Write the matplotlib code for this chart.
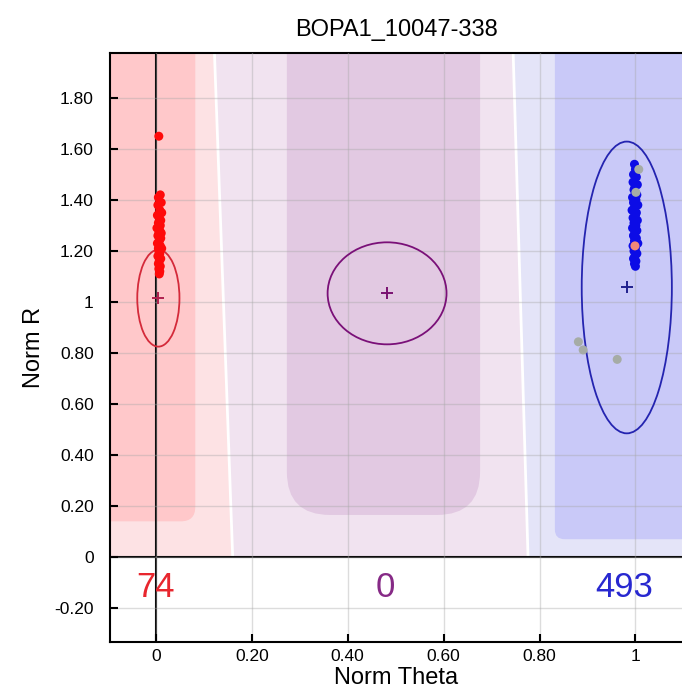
import matplotlib.pyplot as plt
from matplotlib.patches import Ellipse, FancyBboxPatch, Polygon

plt.rcParams['font.family'] = ['Liberation Sans', 'DejaVu Sans']

title = 'BOPA1_10047-338'
x_ticks = [0, 0.2, 0.4, 0.6, 0.8, 1.0]
x_tick_labels = ['0', '0.20', '0.40', '0.60', '0.80', '1']
y_ticks = [-0.2, 0, 0.2, 0.4, 0.6, 0.8, 1.0, 1.2, 1.4, 1.6, 1.8]
y_tick_labels = ['-0.20', '0', '0.20', '0.40', '0.60', '0.80', '1', '1.20', '1.40', '1.60', '1.80']

# genotype clusters: AA, AB, BB
cluster_theta = [0.005, 0.482, 0.982]
cluster_r = [1.015, 1.034, 1.057]
ellipse_w = [0.088, 0.248, 0.188]
ellipse_h = [0.38, 0.40, 1.144]
counts = ['74', '0', '493']
count_theta = [0.0, 0.478, 0.976]
ellipse_colors = ['#D42A3A', '#7A1078', '#2424B0']
mean_colors = ['#B0204E', '#7A1070', '#20208E']
count_colors = ['#E8262E', '#862A86', '#2828D0']

# called samples
aa_theta = [0.006, 0.009, 0.005, 0.011, 0.004, 0.008, 0.012, 0.003, 0.007, 0.010,
            0.005, 0.009, 0.002, 0.008, 0.011, 0.006, 0.004, 0.010, 0.007, 0.003,
            0.009, 0.005, 0.012, 0.006, 0.008, 0.004, 0.010, 0.007, 0.005, 0.009,
            0.006, 0.008, 0.007]
aa_r = [1.65, 1.42, 1.41, 1.39, 1.38, 1.36, 1.35, 1.34, 1.33, 1.32,
        1.31, 1.30, 1.29, 1.28, 1.27, 1.27, 1.26, 1.25, 1.24, 1.23,
        1.22, 1.21, 1.21, 1.20, 1.19, 1.18, 1.17, 1.16, 1.15, 1.14,
        1.13, 1.12, 1.11]
bb_theta = [0.998, 1.000, 0.996, 1.002, 0.995, 1.004, 0.999, 0.997, 1.003, 0.994,
            1.001, 0.996, 1.005, 0.998, 0.993, 1.002, 1.000, 0.995, 1.004, 0.997,
            1.001, 0.994, 1.003, 0.999, 0.996, 1.002, 0.998, 1.005, 0.995, 1.000,
            0.997, 1.003, 0.999, 0.996, 1.001, 0.998, 1.000, 0.997, 0.999, 0.998]
bb_r = [1.54, 1.52, 1.50, 1.49, 1.47, 1.46, 1.45, 1.44, 1.42, 1.41,
        1.40, 1.39, 1.38, 1.37, 1.36, 1.35, 1.34, 1.33, 1.32, 1.31,
        1.30, 1.29, 1.28, 1.27, 1.26, 1.25, 1.24, 1.23, 1.22, 1.21,
        1.20, 1.19, 1.18, 1.17, 1.16, 1.15, 1.14, 1.26, 1.33, 1.40]
gray_theta = [1.001, 1.007, 0.881, 0.891, 0.962]
gray_r = [1.43, 1.52, 0.844, 0.812, 0.775]
odd_theta = [0.999]
odd_r = [1.22]

# cluster decision regions (core: x0, x1, bottom, corner)
core_x0 = [-0.2, 0.273, 0.832]
core_x1 = [0.082, 0.676, 1.2]
core_bottom = [0.14, 0.165, 0.07]
core_round = [0.03, 0.09, 0.02]
core_colors = ['#FFC8CA', '#E2C9E2', '#C9C9F8']
left_edge_top, left_edge_bottom = 0.122, 0.160
right_edge_top, right_edge_bottom = 0.745, 0.776

x_min, x_max = -0.095, 1.097
y_min, y_max = -0.333, 1.976

fig = plt.figure(figsize=(6.82, 6.92), dpi=100)
ax = fig.add_axes([0.1619, 0.0723, 0.838, 0.851])
ax.set_xlim(x_min, x_max)
ax.set_ylim(y_min, y_max)

# outer regions
ax.add_patch(Polygon([(x_min, 0), (x_min, y_max), (left_edge_top, y_max), (left_edge_bottom, 0)],
                     closed=True, facecolor='#FDE2E4', edgecolor='none', zorder=0))
ax.add_patch(Polygon([(left_edge_bottom, 0), (left_edge_top, y_max), (right_edge_top, y_max), (right_edge_bottom, 0)],
                     closed=True, facecolor='#F1E3F0', edgecolor='none', zorder=0))
ax.add_patch(Polygon([(right_edge_bottom, 0), (right_edge_top, y_max), (x_max, y_max), (x_max, 0)],
                     closed=True, facecolor='#E4E4F8', edgecolor='none', zorder=0))
ax.plot([left_edge_top, left_edge_bottom], [y_max, 0], color='white', lw=2.0, zorder=0.5)
ax.plot([right_edge_top, right_edge_bottom], [y_max, 0], color='white', lw=2.0, zorder=0.5)

aspect = (480 / 255)
for x0, x1, yb, rnd, col in zip(core_x0, core_x1, core_bottom, core_round, core_colors):
    ax.add_patch(FancyBboxPatch((x0, yb), x1 - x0, 3.0,
                                boxstyle=f'round,pad=0,rounding_size={rnd}',
                                mutation_aspect=aspect, facecolor=col, edgecolor='none', zorder=0.6))

ax.set_xticks(x_ticks)
ax.set_xticklabels(x_tick_labels)
ax.set_yticks(y_ticks)
ax.set_yticklabels(y_tick_labels)
ax.grid(True, color='#A8A8A8', alpha=0.4, lw=1.0, zorder=1)
ax.set_axisbelow(False)

ax.axhline(0, color='black', lw=1.5, zorder=2)
ax.axvline(0, color='black', lw=1.5, zorder=2)

for cx, cy, w, h, col in zip(cluster_theta, cluster_r, ellipse_w, ellipse_h, ellipse_colors):
    ax.add_patch(Ellipse((cx, cy), w, h, fill=False, edgecolor=col, lw=1.3, zorder=3))
for cx, cy, col in zip(cluster_theta, cluster_r, mean_colors):
    ax.plot(cx, cy, marker='+', color=col, markersize=8, mew=1.4, zorder=5)

ax.scatter(aa_theta, aa_r, s=42, color='#FF0A0A', edgecolors='none', zorder=4)
ax.scatter(bb_theta, bb_r, s=42, color='#0C0CE6', edgecolors='none', zorder=4)
ax.scatter(gray_theta, gray_r, s=42, color='#A6ACA6', edgecolors='none', zorder=4.5)
ax.scatter(odd_theta, odd_r, s=42, color='#F08878', edgecolors='none', zorder=4.5)

for tx, txt, col in zip(count_theta, counts, count_colors):
    ax.text(tx, -0.157, txt, color=col, fontsize=25, ha='center', va='baseline', zorder=6)

ax.spines['right'].set_visible(False)
for side in ['left', 'top', 'bottom']:
    ax.spines[side].set_linewidth(1.5)
ax.tick_params(direction='in', length=6, width=1.5, labelsize=12.5)
ax.tick_params(axis='y', pad=12)
ax.tick_params(axis='x', pad=5)

ax.set_title(title, fontsize=17, pad=12)
ax.set_xlabel('Norm Theta', fontsize=17, labelpad=2)
ax.set_ylabel('Norm R', fontsize=17, labelpad=7)

fig.savefig('out.png', dpi=100)
